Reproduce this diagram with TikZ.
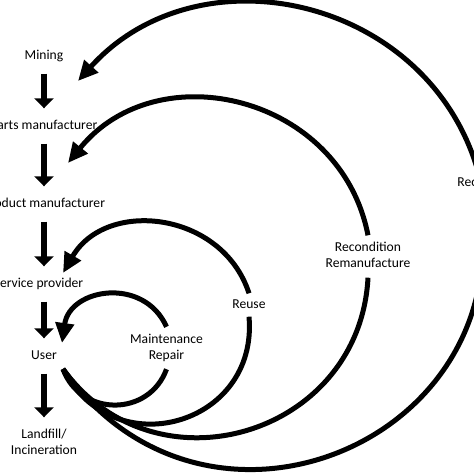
\documentclass[tikz,border=0pt]{standalone}
\usepackage{fontspec}
\setmainfont{Carlito}
\usetikzlibrary{arrows.meta}

\begin{document}
\begin{tikzpicture}[x=1pt, y=1pt,
    stage/.style={font=\fontsize{13.6}{16}\selectfont, align=center, text height=10pt, text depth=3pt, inner xsep=4pt, inner ysep=3pt},
    twoline/.style={text height=26pt},
    loopname/.style={stage, inner ysep=6.5pt},
    flow/.style={line width=6pt, -{Triangle[width=19pt, length=10pt]}, shorten <=8pt, shorten >=8pt},
    ring/.style={line width=5pt},
    back/.style={ring, -{Triangle[width=18pt, length=20pt]}}]
    \useasboundingbox (0,0) rectangle (474,474);
    \clip (0,0) rectangle (474,474);
    % chain of stages
    \node[stage] (mining) at (44, 418) {Mining};
    \node[stage] (parts) at (44, 348) {Parts manufacturer};
    \node[stage] (product) at (44, 270) {Product manufacturer};
    \node[stage] (provider) at (38.5, 190) {Service provider};
    \node[stage] (user) at (44, 118) {User};
    \node[stage, twoline] (landfill) at (44, 31) {Landfill/\\Incineration};
    \draw[flow] (mining.south) -- (parts.north);
    \draw[flow] (parts.south) -- (product.north);
    \draw[flow] (product.south) -- (provider.north -| product);
    \draw[flow] (provider.south -| user) -- (user.north);
    \draw[flow] (user.south) -- (landfill.north);
    % loops back
    \node[loopname, twoline] (maint) at (166.5, 126) {Maintenance\\Repair};
    \node[loopname, inner ysep=5pt] (reuse) at (249, 169) {Reuse};
    \node[loopname, twoline] (recond) at (368, 217.5) {Recondition\\Remanufacture};
    \node[loopname, inner ysep=5pt] (recycle) at (478, 291) {Recycle};
    \coordinate (ustart) at ([xshift=19pt, yshift=-13pt]user.center);
    \draw[ring] (ustart) to[out=290, in=250, looseness=1.26] (maint.south);
    \draw[back] (maint.north) to[out=114, in=82, looseness=1.34] ([xshift=18pt, yshift=13pt]user.center);
    \draw[ring] (ustart) to[out=297, in=275, looseness=1.45] (reuse.south);
    \draw[back] (reuse.north) to[out=108, in=60, looseness=1.18] ([xshift=24.5pt, yshift=11pt]provider.center);
    \draw[ring] (ustart) to[out=306, in=267, looseness=1.27] (recond.south);
    \draw[back] (recond.north) to[out=101, in=51, looseness=1.18] ([xshift=24pt, yshift=41pt]product.center);
    \draw[ring] (ustart) to[out=305, in=281, looseness=1.42] (recycle.south);
    \draw[back] (recycle.north) to[out=106, in=48, looseness=1.13] ([xshift=34pt, yshift=45pt]parts.center);
\end{tikzpicture}
\end{document}
